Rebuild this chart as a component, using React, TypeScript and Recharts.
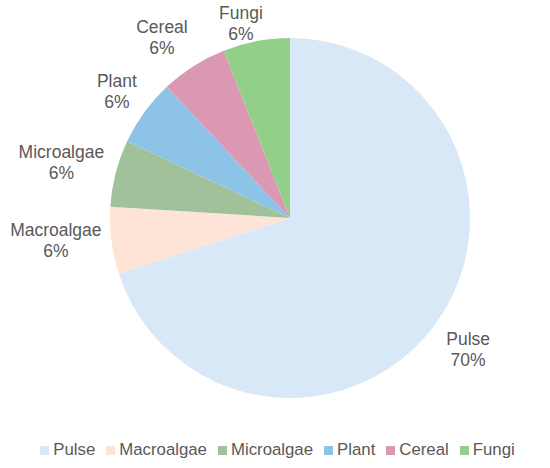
import React from "react";
import { PieChart, Pie, Cell, Legend } from "recharts";

const categories = ["Pulse", "Macroalgae", "Microalgae", "Plant", "Cereal", "Fungi"];
const shares = [70, 6, 6, 6, 6, 6];
const colors = ["#d9e8f6", "#fde4d6", "#a0c19a", "#8ec3e8", "#db98b2", "#92d08a"];

const data = categories.map((name, i) => ({ name, value: shares[i] }));

const FONT = "Arial, 'Liberation Sans', sans-serif";
const TEXT = "#595959";
const RAD = Math.PI / 180;

// best-fit tweaks where the radial placement collides (like Excel does)
const labelNudge: Record<string, [number, number]> = {
  Fungi: [-9, 15],
  Cereal: [-11, 0],
  Pulse: [5, 12],
};

// outside label, pushed away from the rim by half the text box
const renderLabel = (props: any) => {
  const { cx, cy, midAngle, outerRadius, name, value } = props;
  const cos = Math.cos(-midAngle * RAD);
  const sin = Math.sin(-midAngle * RAD);
  const halfW = name.length * 4.4;
  const halfH = 17;
  const r = outerRadius + 12;
  const [nx, ny] = labelNudge[name] || [0, 0];
  const x = cx + r * cos + cos * halfW + nx;
  const y = cy + r * sin + sin * halfH - 4 + ny;
  return (
    <text
      x={x}
      y={y}
      textAnchor="middle"
      fontFamily={FONT}
      fontSize={17.5}
      fill={TEXT}
    >
      <tspan x={x} dy={-4.25}>{name}</tspan>
      <tspan x={x} dy={21}>{value}%</tspan>
    </text>
  );
};

const renderLegend = () => (
  <div
    style={{
      display: "flex",
      justifyContent: "center",
      fontFamily: FONT,
      fontSize: 16.8,
      color: TEXT,
      paddingLeft: 16,
    }}
  >
    {categories.map((c, i) => (
      <span key={c} style={{ display: "flex", alignItems: "center", marginRight: 11 }}>
        <span
          style={{
            width: 9,
            height: 9,
            background: colors[i],
            display: "inline-block",
            marginRight: 4,
          }}
        />
        {c}
      </span>
    ))}
  </div>
);

export default function App() {
  return (
    <div style={{ position: "absolute", left: 0, top: 0, background: "#fff" }}>
      <PieChart width={550} height={468} margin={{ top: 0, right: 0, bottom: 0, left: 0 }}>
        <Pie
          data={data}
          dataKey="value"
          nameKey="name"
          cx={290}
          cy={218}
          outerRadius={180}
          startAngle={90}
          endAngle={-270}
          stroke="none"
          label={renderLabel}
          labelLine={false}
          isAnimationActive={false}
        >
          {data.map((d, i) => (
            <Cell key={`cell-${i}`} fill={colors[i]} />
          ))}
        </Pie>
        <Legend
          verticalAlign="bottom"
          content={renderLegend}
          wrapperStyle={{ bottom: 8, left: 0, width: 550 }}
        />
      </PieChart>
    </div>
  );
}
